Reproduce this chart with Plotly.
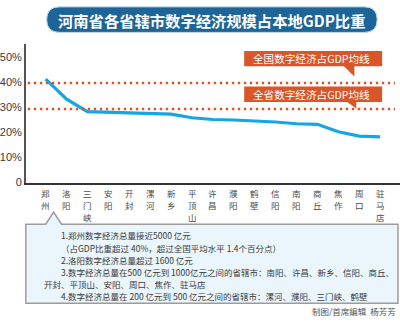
import plotly.graph_objects as go

# ---- data ----
cities = ["郑州", "洛阳", "三门峡", "安阳", "开封", "漯河", "新乡", "平顶山", "许昌",
          "濮阳", "鹤壁", "信阳", "南阳", "商丘", "焦作", "周口", "驻马店"]
digital_share = [41.2, 33.2, 28.2, 28.0, 27.7, 27.5, 27.2, 25.8, 25.1,
                 24.9, 24.6, 24.1, 23.4, 23.2, 20.2, 18.5, 18.2]
national_avg = 39.6
provincial_avg = 29.3
y_ticks = [0, 10, 20, 30, 40, 50]
y_tick_text = ["0", "10%", "20%", "30%", "40%", "50%"]

title_text = "河南省各省辖市数字经济规模占本地GDP比重"
national_label = "全国数字经济占GDP均线"
provincial_label = "全省数字经济占GDP均线"
notes = [
    "1.郑州数字经济总量接近5000 亿元",
    "（占GDP比重超过 40%，超过全国平均水平 1.4个百分点）",
    "2.洛阳数字经济总量超过 1600 亿元",
    "3.数字经济总量在500 亿元到 1000亿元之间的省辖市：南阳、许昌、新乡、信阳、商丘、",
    "开封、平顶山、安阳、周口、焦作、驻马店",
    "4.数字经济总量在 200 亿元到 500 亿元之间的省辖市：漯河、濮阳、三门峡、鹤壁",
]
# continuation lines start further left than numbered items
note_indent = [True, True, True, True, False, True]
credit = "制图/首席编辑  杨芳芳"

W, H = 400, 325
CJK = "Noto Sans CJK SC"
ORANGE = "#d9552a"
BLUE_LINE = "#14a6e6"


def px(x):
    return x / W


def py(y):
    return 1 - y / H


fig = go.Figure()

fig.add_trace(go.Scatter(
    x=list(range(len(cities))), y=digital_share, mode="lines",
    line=dict(color=BLUE_LINE, width=3.2), hoverinfo="skip", showlegend=False,
))

shapes = []
annotations = []

# average reference lines
for val in (national_avg, provincial_avg):
    shapes.append(dict(type="line", xref="paper", yref="y",
                       x0=px(25), x1=px(395), y0=val, y1=val,
                       line=dict(color=ORANGE, width=2.4, dash="2.4px,3.6px")))

# callout labels for the averages
for label, (top, bottom, tri_l, tri_r, tip_y) in [
    (national_label, (52, 67.5, 343, 354, 78)),
    (provincial_label, (88, 104, 346, 356, 110.5)),
]:
    shapes.append(dict(type="rect", xref="paper", yref="paper",
                       x0=px(243), x1=px(382), y0=py(bottom), y1=py(top),
                       fillcolor=ORANGE, line=dict(width=0)))
    shapes.append(dict(type="path", xref="paper", yref="paper",
                       path=f"M{px(tri_l)},{py(bottom - 0.5)} L{px(tri_r)},{py(bottom - 0.5)} "
                            f"L{px(tri_r)},{py(tip_y)} Z",
                       fillcolor=ORANGE, line=dict(width=0)))
    annotations.append(dict(text=label, xref="paper", yref="paper",
                            x=px(311), y=py((top + bottom) / 2), showarrow=False,
                            xanchor="center", yanchor="middle",
                            font=dict(family=CJK, size=10.6, color="white")))

# title pill
l, r, t, b, rad = 44, 377, 7, 33, 13
shapes.append(dict(
    type="path", xref="paper", yref="paper",
    path=(f"M{px(l + rad)},{py(t)} L{px(r - rad)},{py(t)} "
          f"Q{px(r)},{py(t)} {px(r)},{py(t + rad)} "
          f"Q{px(r)},{py(b)} {px(r - rad)},{py(b)} "
          f"L{px(l + rad)},{py(b)} "
          f"Q{px(l)},{py(b)} {px(l)},{py(t + rad)} "
          f"Q{px(l)},{py(t)} {px(l + rad)},{py(t)} Z"),
    fillcolor="#1d6498", line=dict(color="#c9dbe8", width=1)))
annotations.append(dict(text=title_text, xref="paper", yref="paper",
                        x=px(210), y=py(20.5), showarrow=False,
                        xanchor="center", yanchor="middle",
                        font=dict(family=CJK, size=15.3, color="white", weight="bold")))

# category names written top-to-bottom under each city position
CHAR_SIZE = 8.5
CHAR_STEP = 12.3
for i, name in enumerate(cities):
    for k, ch in enumerate(name):
        annotations.append(dict(text=ch, xref="x", yref="paper",
                                x=i, y=py(196.5 + k * CHAR_STEP), showarrow=False,
                                xanchor="center", yanchor="middle", borderpad=0,
                                font=dict(family=CJK, size=CHAR_SIZE, color="#4a4a4a")))

# notes box with pointer toward the first city
shapes.append(dict(
    type="path", xref="paper", yref="paper",
    path=(f"M{px(23)},{py(228.5)} L{px(43)},{py(228.5)} L{px(51)},{py(216)} "
          f"L{px(59)},{py(228.5)} L{px(398)},{py(228.5)} L{px(398)},{py(309)} "
          f"L{px(23)},{py(309)} Z"),
    fillcolor="#eaf5fc", line=dict(color="#9c9c9c", width=1.5)))

NOTE_SIZE = 8.5
NOTE_STEP = 12.4
for k, (txt, ind) in enumerate(zip(notes, note_indent)):
    annotations.append(dict(text=txt, xref="paper", yref="paper",
                            x=px(57 if ind else 40), y=py(239.8 + k * NOTE_STEP),
                            showarrow=False, xanchor="left", yanchor="middle",
                            borderpad=0,
                            font=dict(family=CJK, size=NOTE_SIZE, color="#3a3a3a")))

annotations.append(dict(text=credit, xref="paper", yref="paper",
                        x=px(397), y=py(316.5), showarrow=False,
                        xanchor="right", yanchor="middle", borderpad=0,
                        font=dict(family=CJK, size=8.5, color="#555555")))

fig.update_layout(
    width=W, height=H,
    margin=dict(l=0, r=0, t=0, b=0),
    paper_bgcolor="white", plot_bgcolor="white",
    shapes=shapes, annotations=annotations,
    xaxis=dict(
        domain=[px(23), 1.0],
        range=[-0.95, 16.95],
        tickmode="array",
        tickvals=list(range(len(cities))),
        showticklabels=False,
        showgrid=False, zeroline=False,
        showline=True, linecolor="#333333", linewidth=2,
        ticks="", fixedrange=True,
    ),
    yaxis=dict(
        domain=[py(186), py(45.2)],
        range=[0, 55],
        tickmode="array",
        tickvals=y_ticks, ticktext=y_tick_text,
        tickfont=dict(family="Liberation Sans, Arial", size=11, color="#3a3a3a"),
        showgrid=False, zeroline=False,
        showline=True, linecolor="#555555", linewidth=1.5,
        ticks="", fixedrange=True,
    ),
)

fig.write_html("out.html", config={"displayModeBar": False})
